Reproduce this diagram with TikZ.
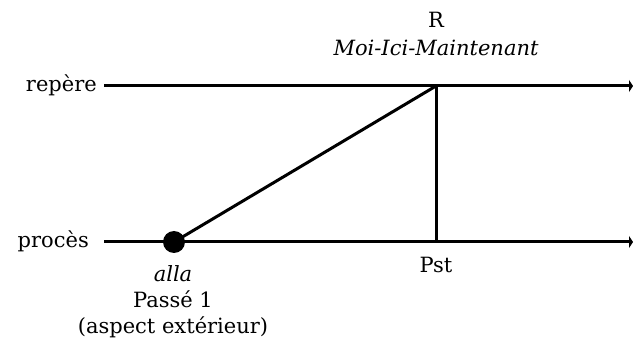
\documentclass[tikz,border=0pt]{standalone}
\usepackage{fontspec}
\setmainfont{DejaVu Serif}
\usetikzlibrary{arrows.meta}
\begin{document}
\begin{tikzpicture}[x=1pt,y=-1pt,
  axis/.style={line width=3pt,-{Triangle[length=4pt,width=12pt]}},
  seg/.style={line width=3pt},
  lbl/.style={font=\fontsize{21}{24}\selectfont,inner sep=0pt,anchor=base}]
\useasboundingbox (0,0) rectangle (633,358);
\node[lbl] (R) at (436,28) {R};
\node[lbl] (MIM) at (436,56) {\itshape Moi-Ici-Maintenant};
\node[lbl,anchor=base east] (rep) at (97,92) {repère};
\node[lbl,anchor=base east] (proc) at (89,248) {procès};
\coordinate (r0) at (104,86);
\coordinate (r1) at (633,86);
\coordinate (p0) at (104,242);
\coordinate (p1) at (633,242);
\coordinate (top) at (436,86);
\coordinate (pst) at (436,242);
\draw[axis] (r0) -- (r1);
\draw[axis] (p0) -- (p1);
\node[circle,fill,inner sep=0pt,minimum size=22pt] (dot) at (174,242) {};
\draw[seg] (dot.center) -- (top);
\draw[seg] (top) -- (pst);
\node[lbl] (alla) at (173,282) {\itshape alla};
\node[lbl] (passe) at (173,308) {Passé 1};
\node[lbl] (asp) at (173,334) {(aspect extérieur)};
\node[lbl] (Pst) at (436,273) {Pst};
\end{tikzpicture}
\end{document}
